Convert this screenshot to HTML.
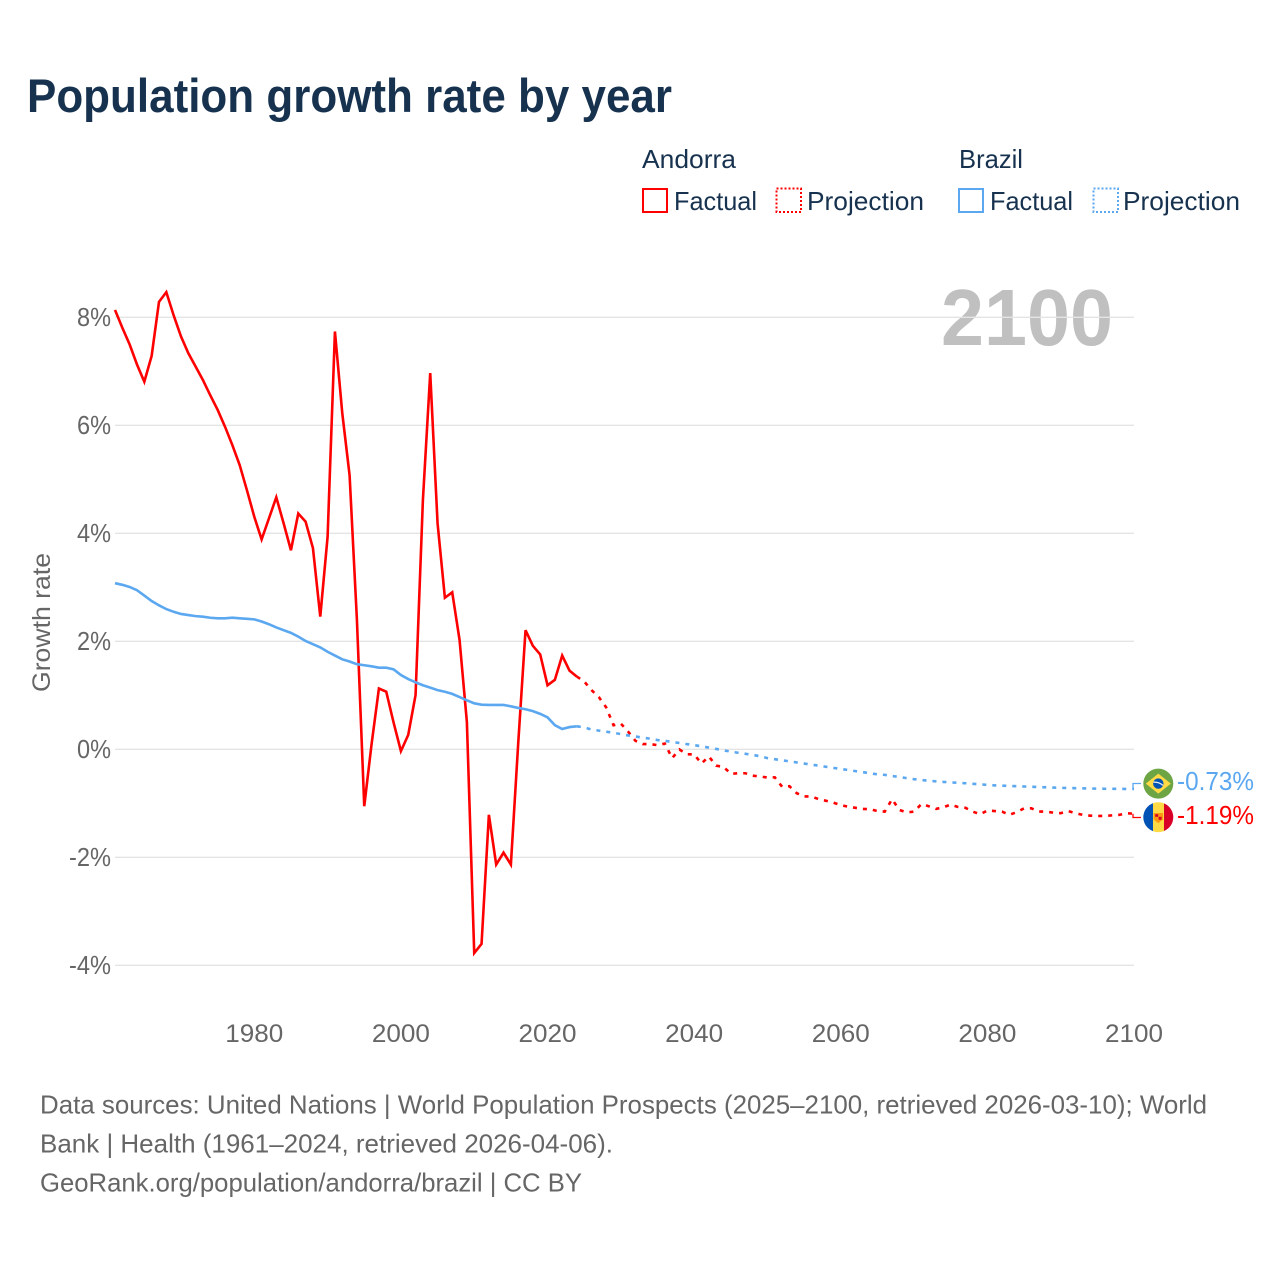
<!DOCTYPE html>
<html lang="en">
<head>
<meta charset="utf-8">
<title>Population growth rate by year</title>
<style>
html,body{margin:0;padding:0;background:#fff;width:1280px;height:1280px;overflow:hidden}
svg{display:block}
text{font-family:"Liberation Sans",sans-serif}
</style>
</head>
<body>
<svg id="chart" xmlns="http://www.w3.org/2000/svg" width="1280" height="1280" viewBox="0 0 1280 1280">
  <rect width="1280" height="1280" fill="#fff"/>
  <text x="27" y="112" font-size="47" font-weight="bold" fill="#17324f" textLength="645" lengthAdjust="spacingAndGlyphs">Population growth rate by year</text>

  <g font-size="26" fill="#17324f">
    <text x="642" y="168" textLength="94" lengthAdjust="spacingAndGlyphs">Andorra</text>
    <text x="959" y="168" textLength="64" lengthAdjust="spacingAndGlyphs">Brazil</text>
    <rect x="643" y="189" width="24" height="23" fill="none" stroke="#ff0000" stroke-width="2"/>
    <text x="674" y="210" textLength="83" lengthAdjust="spacingAndGlyphs">Factual</text>
    <rect x="776.5" y="188.5" width="24.5" height="23.5" fill="none" stroke="#ff0000" stroke-width="2" stroke-dasharray="2 2"/>
    <text x="807" y="210" textLength="117" lengthAdjust="spacingAndGlyphs">Projection</text>
    <rect x="959" y="189" width="24" height="23" fill="none" stroke="#5ba8f0" stroke-width="2"/>
    <text x="990" y="210" textLength="83" lengthAdjust="spacingAndGlyphs">Factual</text>
    <rect x="1093.5" y="188.5" width="24.5" height="23.5" fill="none" stroke="#5ba8f0" stroke-width="2" stroke-dasharray="2 2"/>
    <text x="1123" y="210" textLength="117" lengthAdjust="spacingAndGlyphs">Projection</text>
  </g>

  <text x="941" y="345" font-size="80" font-weight="bold" fill="#c0c0c0" textLength="172" lengthAdjust="spacingAndGlyphs">2100</text>
  <g id="grid"></g>
  <g id="yTicks" font-size="26" fill="#666"></g>
  <g id="xTicks" font-size="25" fill="#666"></g>
  <text transform="translate(50,692) rotate(-90)" font-size="25" fill="#666" textLength="139" lengthAdjust="spacingAndGlyphs">Growth rate</text>
  <g id="series"></g>

  <defs>
    <clipPath id="clipBrazil"><circle cx="1158.3" cy="783.6" r="15"/></clipPath>
    <clipPath id="clipAndorra"><circle cx="1158.3" cy="817.2" r="15"/></clipPath>
  </defs>
  <g clip-path="url(#clipBrazil)">
    <rect x="1143" y="768" width="31" height="31" fill="#6da544"/>
    <polygon points="1158.3,773.6 1170.8,783.6 1158.3,793.6 1145.8,783.6" fill="#ffda44"/>
    <circle cx="1158.3" cy="783.6" r="5.2" fill="#0052b4"/>
    <path d="M1153.4 782.2 Q1158.5 781.6 1163 785.4" fill="none" stroke="#f0f0f0" stroke-width="1.2"/>
  </g>
  <g clip-path="url(#clipAndorra)">
    <rect x="1143" y="802" width="10" height="31" fill="#0052b4"/>
    <rect x="1153" y="802" width="11" height="31" fill="#ffda44"/>
    <rect x="1164" y="802" width="10" height="31" fill="#d80027"/>
    <path d="M1153.6 813 h9.4 v6.5 l-4.7 3.6 l-4.7 -3.6 z" fill="#ff9811"/>
    <rect x="1158.6" y="816.8" width="3" height="3" fill="#d80027"/>
    <rect x="1155.2" y="814.2" width="3" height="2.6" fill="#d80027"/>
  </g>
  <g id="endLabels" font-size="26"></g>

  <g font-size="26" fill="#666">
    <text x="40" y="1113.5" textLength="1167" lengthAdjust="spacingAndGlyphs">Data sources: United Nations | World Population Prospects (2025–2100, retrieved 2026-03-10); World</text>
    <text x="40" y="1152.5" textLength="573" lengthAdjust="spacingAndGlyphs">Bank | Health (1961–2024, retrieved 2026-04-06).</text>
    <text x="40" y="1191.5" textLength="542" lengthAdjust="spacingAndGlyphs">GeoRank.org/population/andorra/brazil | CC BY</text>
  </g>
</svg>
<script>
var firstYear = 1961;
var lastYear = 2100;
var yearTicks = [1980, 2000, 2020, 2040, 2060, 2080, 2100];
var percentTicks = [8, 6, 4, 2, 0, -2, -4];
var andorraFactual = [8.14,7.81,7.5,7.13,6.81,7.29,8.29,8.47,8.04,7.65,7.34,7.09,6.84,6.56,6.29,5.98,5.64,5.27,4.8,4.31,3.89,4.28,4.67,4.19,3.69,4.37,4.22,3.73,2.46,3.94,7.74,6.23,5.08,2.4,-1.05,0.1,1.13,1.07,0.5,-0.03,0.27,1.01,4.62,6.97,4.19,2.81,2.91,2.03,0.51,-3.77,-3.6,-1.21,-2.13,-1.91,-2.13,0.11,2.21,1.92,1.76,1.19,1.29,1.74,1.46,1.35];
var andorraProjection = [1.26,1.1,0.97,0.78,0.45,0.48,0.33,0.16,0.1,0.1,0.08,0.11,-0.16,0,-0.09,-0.09,-0.26,-0.13,-0.3,-0.32,-0.45,-0.44,-0.44,-0.485,-0.5,-0.52,-0.515,-0.69,-0.68,-0.81,-0.87,-0.87,-0.92,-0.95,-0.985,-1.03,-1.06,-1.08,-1.1,-1.105,-1.14,-1.15,-0.92,-1.12,-1.165,-1.15,-1.01,-1.05,-1.1,-1.07,-1.02,-1.065,-1.08,-1.15,-1.2,-1.13,-1.14,-1.15,-1.21,-1.16,-1.09,-1.09,-1.15,-1.15,-1.17,-1.18,-1.14,-1.18,-1.21,-1.225,-1.23,-1.23,-1.22,-1.21,-1.18,-1.19];
var brazilFactual = [3.08,3.05,3.01,2.95,2.85,2.75,2.67,2.6,2.55,2.51,2.49,2.47,2.46,2.44,2.43,2.43,2.44,2.43,2.42,2.41,2.37,2.32,2.26,2.21,2.16,2.09,2.01,1.95,1.89,1.81,1.74,1.67,1.63,1.58,1.56,1.54,1.515,1.515,1.485,1.38,1.305,1.245,1.19,1.145,1.1,1.07,1.03,0.97,0.91,0.855,0.83,0.825,0.825,0.825,0.8,0.77,0.745,0.71,0.66,0.595,0.45,0.38,0.415,0.43];
var brazilProjection = [0.41,0.37,0.35,0.33,0.31,0.285,0.26,0.24,0.22,0.2,0.175,0.16,0.14,0.12,0.1,0.08,0.06,0.035,0.01,-0.015,-0.04,-0.06,-0.08,-0.1,-0.125,-0.16,-0.18,-0.2,-0.22,-0.24,-0.26,-0.28,-0.3,-0.32,-0.34,-0.36,-0.38,-0.4,-0.42,-0.44,-0.46,-0.47,-0.49,-0.51,-0.53,-0.55,-0.565,-0.58,-0.59,-0.6,-0.61,-0.615,-0.625,-0.635,-0.645,-0.655,-0.665,-0.67,-0.675,-0.68,-0.685,-0.69,-0.695,-0.7,-0.705,-0.71,-0.713,-0.716,-0.719,-0.722,-0.725,-0.727,-0.728,-0.729,-0.73,-0.73];

var SVGNS = 'http://www.w3.org/2000/svg';
function xScale(year) { return 115 + (year - firstYear) * (1134 - 115) / (lastYear - firstYear); }
function yScale(v) { return 749.5 - v * 54; }
function make(tag, parentId) {
  var el = document.createElementNS(SVGNS, tag);
  document.getElementById(parentId).appendChild(el);
  return el;
}
function pathFrom(startYear, values, priorValue) {
  var d = '';
  var year = startYear;
  if (priorValue !== undefined) {
    d = 'M' + xScale(startYear - 1).toFixed(2) + ' ' + yScale(priorValue).toFixed(2);
  }
  for (var i = 0; i < values.length; i++) {
    d += (d ? 'L' : 'M') + xScale(year + i).toFixed(2) + ' ' + yScale(values[i]).toFixed(2);
  }
  return d;
}

percentTicks.forEach(function (t) {
  var line = make('line', 'grid');
  
  
  line.setAttribute('x1', 115);
  line.setAttribute('x2', 1134);
  line.setAttribute('y1', yScale(t) - 0.2);
  line.setAttribute('y2', yScale(t) - 0.2);
  line.setAttribute('stroke', '#e4e4e4');
  line.setAttribute('stroke-width', '1.4');
  var label = make('text', 'yTicks');
  
  
  label.setAttribute('x', 111);
  label.setAttribute('y', yScale(t) + 8.5);
  label.setAttribute('text-anchor', 'end');
  label.setAttribute('textLength', t < 0 ? '42' : '34');
  label.setAttribute('lengthAdjust', 'spacingAndGlyphs');
  label.textContent = t + '%';
});

yearTicks.forEach(function (y) {
  var label = make('text', 'xTicks');
  
  
  label.setAttribute('x', xScale(y));
  label.setAttribute('y', 1042);
  label.setAttribute('text-anchor', 'middle');
  label.setAttribute('textLength', '58');
  label.setAttribute('lengthAdjust', 'spacingAndGlyphs');
  label.textContent = y;
});

function drawSeries(name, color, factual, projection, labelY, connectorY) {
  var solid = make('path', 'series');
  
  
  solid.setAttribute('d', pathFrom(firstYear, factual));
  solid.setAttribute('fill', 'none');
  solid.setAttribute('stroke', color);
  solid.setAttribute('stroke-width', '2.6');
  solid.setAttribute('stroke-linejoin', 'miter');

  var startProjection = firstYear + factual.length;
  var dashed = make('path', 'series');
  
  
  dashed.setAttribute('d', pathFrom(startProjection, projection, factual[factual.length - 1]));
  dashed.setAttribute('fill', 'none');
  dashed.setAttribute('stroke', color);
  dashed.setAttribute('stroke-width', '2.6');
  dashed.setAttribute('stroke-dasharray', '4 6');

  var last = projection[projection.length - 1];
  var connector = make('polyline', 'series');
  
  
  var cx = xScale(lastYear) - 1;
  connector.setAttribute('points', cx + ',' + yScale(last) + ' ' + cx + ',' + connectorY + ' ' + (cx + 8) + ',' + connectorY);
  connector.setAttribute('fill', 'none');
  connector.setAttribute('stroke', color);
  connector.setAttribute('stroke-width', '1.3');

  var label = make('text', 'endLabels');
  
  
  label.setAttribute('x', 1177);
  label.setAttribute('y', labelY);
  label.setAttribute('fill', color);
  label.setAttribute('textLength', '77');
  label.setAttribute('lengthAdjust', 'spacingAndGlyphs');
  label.textContent = last.toFixed(2) + '%';
}
drawSeries('andorra', '#ff0000', andorraFactual, andorraProjection, 824, 817.5);
drawSeries('brazil', '#5ba8f0', brazilFactual, brazilProjection, 790, 783.5);
</script>
</body>
</html>
